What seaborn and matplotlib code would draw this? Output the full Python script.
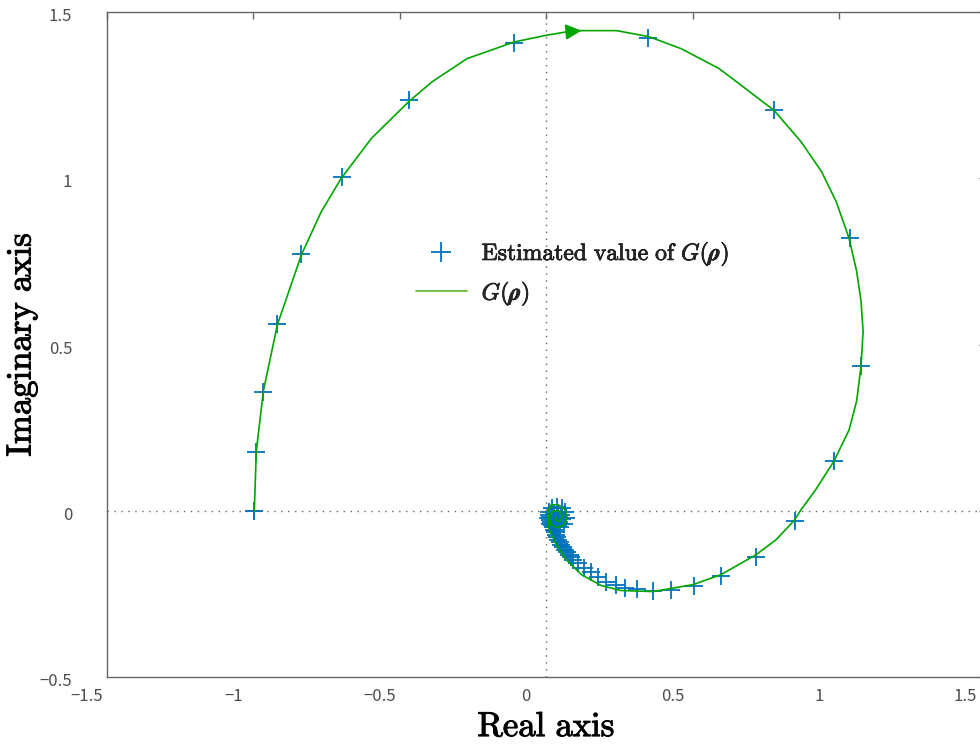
import matplotlib
matplotlib.use("Agg")
import matplotlib.pyplot as plt
import matplotlib.transforms as mtransforms
import matplotlib.patheffects as pe
from matplotlib.lines import Line2D
import numpy as np
import pandas as pd
import seaborn as sns

# G(rho) curve
line_re = [-0.997, -0.990, -0.966, -0.918, -0.836, -0.768, -0.700, -0.597, -0.470, -0.390,
           -0.270, -0.109, 0.000, 0.068, 0.120, 0.240, 0.350, 0.460, 0.590, 0.680,
           0.778, 0.870, 0.940, 0.990, 1.034, 1.060, 1.075, 1.082, 1.075, 1.060,
           1.034, 0.983, 0.920, 0.870, 0.846, 0.785, 0.717, 0.597, 0.502, 0.365,
           0.256, 0.188, 0.120, 0.068, 0.034, 0.010, 0.007, 0.007, 0.017, 0.041,
           0.065, 0.072, 0.058, 0.034, 0.014, 0.010, 0.024, 0.044, 0.055, 0.044,
           0.031, 0.034]
line_im = [0.000, 0.180, 0.360, 0.560, 0.770, 0.900, 1.000, 1.120, 1.230, 1.290,
           1.360, 1.410, 1.430, 1.440, 1.444, 1.444, 1.426, 1.390, 1.330, 1.270,
           1.204, 1.110, 1.020, 0.930, 0.820, 0.720, 0.630, 0.540, 0.435, 0.330,
           0.243, 0.150, 0.063, 0.003, -0.030, -0.087, -0.132, -0.192, -0.222, -0.243,
           -0.240, -0.225, -0.192, -0.147, -0.100, -0.057, -0.027, 0.003, 0.018, 0.018,
           0.003, -0.021, -0.045, -0.051, -0.039, -0.018, 0.000, 0.000, -0.018, -0.033,
           -0.027, -0.018]

# estimated values (markers)
est_re = [-0.997, -0.990, -0.966, -0.918, -0.836, -0.696, -0.468, -0.109, 0.348, 0.778,
          1.038, 1.075, 0.983, 0.850, 0.717, 0.597, 0.505, 0.427, 0.365, 0.311,
          0.270, 0.239, 0.205, 0.177, 0.154, 0.130, 0.109, 0.092, 0.085, 0.078,
          0.071, 0.065, 0.058, 0.051, 0.046, 0.041, 0.037, 0.034, 0.030, 0.027,
          0.023, 0.020, 0.017, 0.014, 0.012, 0.010,
          0.007, 0.010, 0.020, 0.038, 0.055, 0.065, 0.068, 0.061, 0.048, 0.027,
          0.014, 0.020, 0.027, 0.041, 0.051, 0.055, 0.044, 0.031, 0.038]
est_im = [0.000, 0.177, 0.357, 0.562, 0.772, 1.003, 1.234, 1.408, 1.423, 1.204,
          0.820, 0.435, 0.150, -0.030, -0.138, -0.195, -0.225, -0.237, -0.240, -0.234,
          -0.231, -0.222, -0.213, -0.198, -0.183, -0.171, -0.156, -0.147, -0.140, -0.132,
          -0.125, -0.117, -0.110, -0.102, -0.095, -0.087, -0.080, -0.072, -0.065, -0.057,
          -0.050, -0.042, -0.035, -0.027, -0.020, -0.012,
          -0.021, -0.003, 0.009, 0.012, 0.009, -0.003, -0.021, -0.039, -0.048, -0.048,
          -0.039, -0.021, -0.009, -0.006, -0.012, -0.024, -0.033, -0.033, -0.021]

x_ticks = [-1.5, -1, -0.5, 0, 0.5, 1, 1.5]
x_labels = ["\u22121.5", "\u22121", "\u22120.5", "0", "0.5", "1", "1.5"]
y_ticks = [-0.5, 0, 0.5, 1, 1.5]
y_labels = ["\u22120.5", "0", "0.5", "1", "1.5"]

green = "#00a600"
blue = "#0072bd"

sns.set_theme(style="white")
plt.rcParams["mathtext.fontset"] = "cm"
plt.rcParams["font.family"] = ["Noto Sans CJK JP", "DejaVu Sans"]

fig = plt.figure(figsize=(9.8, 7.45), dpi=100)
ax = fig.add_axes([107 / 980, 68 / 745, 878.5 / 980, 665 / 745])

line_df = pd.DataFrame({"re": line_re, "im": line_im})
est_df = pd.DataFrame({"re": est_re, "im": est_im})

ax.axhline(0, color="#666666", linestyle=(0, (1, 4)), linewidth=1.0, zorder=1)
ax.axvline(0, color="#666666", linestyle=(0, (1, 4)), linewidth=1.0, zorder=1)

ax.plot(est_re[:1], est_im[:1], marker="+", color="#ff5050", markersize=11,
        markeredgewidth=1.2, linestyle="none", zorder=2)
sns.scatterplot(data=est_df, x="re", y="im", marker="+", s=150, color=blue,
                linewidth=1.3, ax=ax, zorder=2)

sns.lineplot(data=line_df, x="re", y="im", sort=False, estimator=None,
             color=green, linewidth=1.2, ax=ax, zorder=3)

# direction arrow on the curve
k = 13
ax.annotate("", xy=(line_re[k + 1], line_im[k + 1]), xytext=(line_re[k], line_im[k]),
            arrowprops=dict(arrowstyle="-|>", mutation_scale=24, color=green,
                            shrinkA=0, shrinkB=0, lw=1.2), zorder=4)

ax.set_xlim(-1.5, 1.5)
ax.set_ylim(-0.5, 1.5)
ax.set_xticks(x_ticks)
ax.set_xticklabels(x_labels)
ax.set_yticks(y_ticks)
ax.set_yticklabels(y_labels)

ax.tick_params(axis="both", which="both", direction="in", length=5, width=1,
               color="#666666", labelcolor="#4d4d4d", labelsize=12,
               top=True, right=True)
ax.tick_params(axis="x", pad=8)
ax.tick_params(axis="y", pad=25)
xshift = mtransforms.ScaledTranslation(-0.2, 0, fig.dpi_scale_trans)
for lab in ax.get_xticklabels():
    lab.set_transform(lab.get_transform() + xshift)
yshift = mtransforms.ScaledTranslation(0, -0.025, fig.dpi_scale_trans)
for lab in ax.get_yticklabels():
    lab.set_transform(lab.get_transform() + yshift)

for sp in ax.spines.values():
    sp.set_color("#666666")
    sp.set_linewidth(1.0)

thick = [pe.withStroke(linewidth=0.7, foreground="black")]
ax.set_xlabel(r"$\mathrm{Real\ axis}$", fontsize=25, color="black", labelpad=3,
              path_effects=thick)
ax.set_ylabel(r"$\mathrm{Imaginary\ axis}$", fontsize=25, color="black", labelpad=0,
              path_effects=thick)

handles = [
    Line2D([], [], marker="+", color=blue, linestyle="none", markersize=14, markeredgewidth=1.3),
    Line2D([], [], color="#5cb82e", linewidth=1.2),
]
labels = [r"$\mathrm{Estimated\ value\ of\ }G(\boldsymbol{\rho})$",
          r"$G(\boldsymbol{\rho})$"]
leg = ax.legend(handles, labels, loc="upper left", bbox_to_anchor=(0.327, 0.69),
                frameon=False, fontsize=17, handlelength=2.2, handletextpad=0.6,
                labelspacing=0.45)
for t in leg.get_texts():
    t.set_path_effects([pe.withStroke(linewidth=0.5, foreground="black")])

fig.savefig("out.png", dpi=100)
